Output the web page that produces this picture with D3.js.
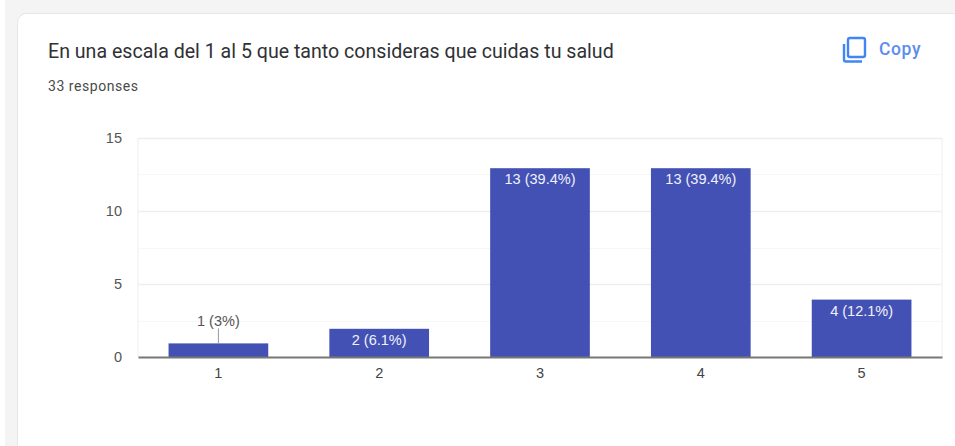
<!DOCTYPE html>
<html>
<head>
<meta charset="utf-8">
<script src="https://d3js.org/d3.v7.min.js"></script>
<style>
  html, body { margin: 0; padding: 0; background: #f4f4f4; overflow: hidden; }
  svg { font-family: Arial, "Liberation Sans", sans-serif; }
  .head { font-family: Roboto, sans-serif; }
</style>
</head>
<body>
<div id="chart"></div>
<script>
const categories = ["1", "2", "3", "4", "5"];
const counts = [1, 2, 13, 13, 4];
const labels = ["1 (3%)", "2 (6.1%)", "13 (39.4%)", "13 (39.4%)", "4 (12.1%)"];
const majorTicks = [0, 5, 10, 15];
const minorTicks = [2.5, 7.5, 12.5];

const width = 955, height = 446;
const margin = {top: 138, right: 13, bottom: 89, left: 138};
const w = width - margin.left - margin.right;
const h = height - margin.top - margin.bottom;

const svg = d3.select("#chart").append("svg")
  .attr("width", width)
  .attr("height", height)
  .style("display", "block");

// white strip left of the page background
svg.append("rect")
  .attr("x", 0).attr("y", 0)
  .attr("width", 5).attr("height", height)
  .attr("fill", "#fff");

// card
svg.append("rect")
  .attr("x", 17.5).attr("y", 13.5)
  .attr("width", 960).attr("height", 460)
  .attr("rx", 9)
  .attr("fill", "#fff")
  .attr("stroke", "#e6e6e6");

svg.append("text")
  .attr("class", "head")
  .attr("x", 48).attr("y", 58)
  .attr("font-size", 19.6)
  .attr("fill", "#303134")
  .text("En una escala del 1 al 5 que tanto consideras que cuidas tu salud");

svg.append("text")
  .attr("class", "head")
  .attr("x", 48).attr("y", 91)
  .attr("font-size", 14)
  .attr("letter-spacing", 0.55)
  .attr("fill", "#4a4a4a")
  .text("33 responses");

// copy icon
const icon = svg.append("g")
  .attr("fill", "none")
  .attr("stroke", "#4285f4")
  .attr("stroke-width", 2.4);
icon.append("rect")
  .attr("x", 848).attr("y", 38)
  .attr("width", 17).attr("height", 19).attr("rx", 2);
icon.append("path")
  .attr("d", "M844 44 V59.5 a2 2 0 0 0 2 2 H862");

svg.append("text")
  .attr("class", "head")
  .attr("x", 879).attr("y", 55)
  .attr("font-size", 17.5)
  .attr("font-weight", 500)
  .attr("letter-spacing", 0.6)
  .attr("fill", "#5b8def")
  .text("Copy");

const chart = svg.append("g")
  .attr("transform", `translate(${margin.left}, ${margin.top})`);

const xscale = d3.scaleBand().domain(categories).range([0, w]).paddingInner(0.38).paddingOuter(0.19);
const yscale = d3.scaleLinear().domain([0, 15]).range([h, 0]);

chart.selectAll("line.minor")
  .data(minorTicks)
  .join("line")
  .attr("class", "minor")
  .attr("x1", 0).attr("x2", w)
  .attr("y1", d => Math.round(yscale(d)) + 0.5)
  .attr("y2", d => Math.round(yscale(d)) + 0.5)
  .attr("stroke", "#f7f7f7");

chart.selectAll("line.major")
  .data(majorTicks.slice(1))
  .join("line")
  .attr("class", "major")
  .attr("x1", 0).attr("x2", w)
  .attr("y1", d => Math.round(yscale(d)) + 0.5)
  .attr("y2", d => Math.round(yscale(d)) + 0.5)
  .attr("stroke", "#ededed")
  .attr("stroke-width", 1.5);

// left and right edges of the plot
chart.selectAll("line.edge")
  .data([0, w])
  .join("line")
  .attr("class", "edge")
  .attr("x1", d => d).attr("x2", d => d)
  .attr("y1", 0).attr("y2", h)
  .attr("stroke", "#eeeeee");

// bars start one pixel lower than the scale says, as in the reference
chart.selectAll("rect.bar")
  .data(counts)
  .join("rect")
  .attr("class", "bar")
  .attr("x", (d, i) => xscale(categories[i]))
  .attr("y", d => yscale(d) + 1)
  .attr("width", xscale.bandwidth())
  .attr("height", d => h - yscale(d) - 1)
  .attr("fill", "#4351b5");

// the smallest bar has its label above with a leader line
chart.selectAll("line.leader")
  .data(counts.filter(d => d === 1))
  .join("line")
  .attr("class", "leader")
  .attr("x1", xscale("1") + xscale.bandwidth() / 2)
  .attr("x2", xscale("1") + xscale.bandwidth() / 2)
  .attr("y1", d => yscale(d) + 1)
  .attr("y2", d => yscale(d) - 14)
  .attr("stroke", "#999");

chart.selectAll("text.value")
  .data(counts)
  .join("text")
  .attr("class", "value")
  .attr("x", (d, i) => xscale(categories[i]) + xscale.bandwidth() / 2)
  .attr("y", d => d === 1 ? yscale(d) - 16 : yscale(d) + 17)
  .attr("text-anchor", "middle")
  .attr("font-size", 14.5)
  .attr("fill", d => d === 1 ? "#555" : "#f1f2fa")
  .text((d, i) => labels[i]);

const xaxis = chart.append("g")
  .attr("transform", `translate(0, ${h})`)
  .call(d3.axisBottom(xscale).tickSize(0).tickPadding(11));
xaxis.attr("font-family", null);
xaxis.select(".domain").attr("stroke", "#777").attr("stroke-width", 2);
xaxis.selectAll("text").attr("font-size", 14.5).attr("fill", "#444");

const yaxis = chart.append("g")
  .call(d3.axisLeft(yscale).tickValues(majorTicks).tickFormat(d3.format("d")).tickSize(0).tickPadding(16));
yaxis.attr("font-family", null);
yaxis.select(".domain").remove();
yaxis.selectAll("text").attr("font-size", 14.5).attr("fill", "#555");
</script>
</body>
</html>
